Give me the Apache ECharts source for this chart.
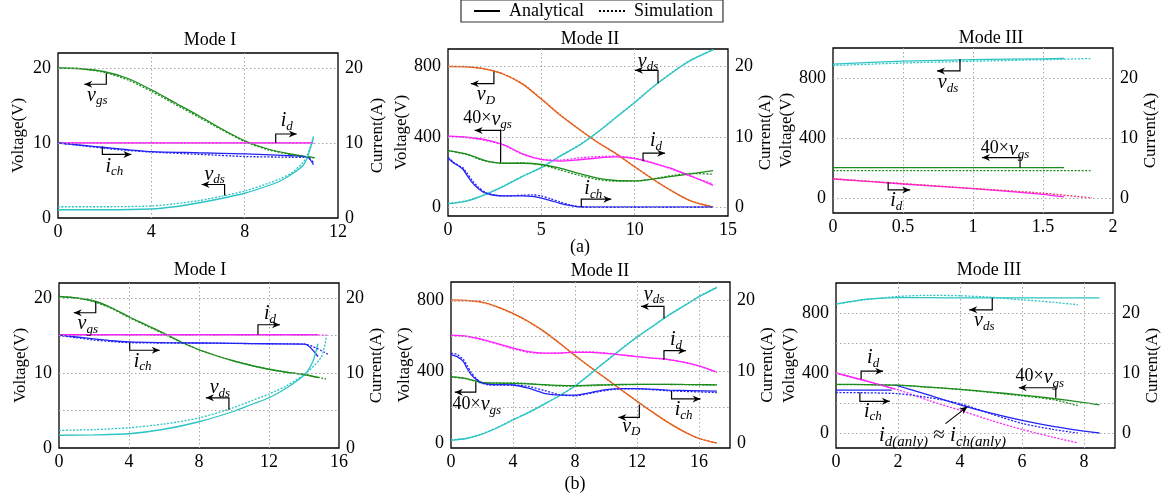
<!DOCTYPE html>
<html>
<head>
<meta charset="utf-8">
<script src="https://cdn.jsdelivr.net/npm/echarts@6/dist/echarts.min.js"></script>
<style>
  html, body { margin: 0; background: #fff; }
  #main { width: 1167px; height: 498px; }
</style>
</head>
<body>
<div id="main"></div>
<script>
// ---- (a) Mode I  (voltages in V, currents in A, same scale)
const a1T = [0, 1, 2, 3, 4, 5, 6, 7, 8, 9, 10, 10.5, 11];
const a1VgsAn = [20, 19.9, 19.5, 18.6, 17.1, 15.4, 13.7, 11.9, 10.3, 9.2, 8.5, 8.25, 8.05];
const a1VgsSim = [20, 19.9, 19.4, 18.4, 16.9, 15.2, 13.5, 11.8, 10.2, 9.1, 8.45, 8.2, 8.0];
const a1IdT = [0, 10.95];
const a1IdAn = [10, 10];
const a1IdSim = [10.02, 10.02];
const a1IchT = [0, 1, 2, 3, 4, 6, 8, 10, 10.7, 10.95];
const a1IchAn = [10, 9.7, 9.4, 9.1, 8.85, 8.7, 8.55, 8.3, 8.1, 7.1];
const a1IchSim = [10, 9.65, 9.3, 9.0, 8.8, 8.5, 8.2, 8.1, 8.05, 7.4];
const a1VdsT = [0, 2, 4, 5, 6, 7, 8, 9, 9.5, 10, 10.5, 10.7, 10.95];
const a1VdsAn = [1.1, 1.1, 1.2, 1.5, 2.0, 2.6, 3.3, 4.3, 4.9, 5.8, 7.0, 8.2, 10.7];
const a1VdsSim = [1.5, 1.5, 1.6, 1.9, 2.3, 2.9, 3.6, 4.6, 5.2, 6.0, 7.4, 8.5, 10.9];

// ---- (a) Mode II
const a2T = [0, 1, 2, 3, 4, 5, 6, 7, 8, 9, 10, 11, 12, 13, 14.2];
const a2VdAn = [800, 798, 785, 755, 700, 615, 525, 445, 370, 305, 230, 158, 92, 36, 0];
const a2VdSim = [802, 800, 787, 757, 702, 617, 527, 446, 371, 305, 230, 158, 92, 36, 2];
const a2VdsAn = [20, 35, 72, 120, 175, 225, 290, 350, 425, 510, 595, 685, 765, 835, 895];
const a2VdsSim = [22, 37, 74, 122, 177, 227, 292, 352, 427, 512, 597, 687, 767, 837, 897];
const a2VgsAn = [322, 302, 265, 250, 250, 243, 222, 192, 166, 152, 150, 160, 175, 190, 208];
const a2VgsSim = [322, 300, 262, 250, 252, 240, 212, 182, 158, 148, 148, 162, 180, 192, 188];
const a2IdAn = [10.1, 9.95, 9.6, 8.85, 7.6, 6.8, 6.55, 6.75, 7.0, 7.15, 6.9, 6.25, 5.5, 4.45, 3.1];
const a2IdSim = [10.1, 9.9, 9.5, 8.8, 7.5, 6.8, 6.7, 7.0, 7.2, 7.25, 7.0, 6.3, 5.4, 4.4, 3.3];
const a2IchT = [0, 0.3, 0.6, 0.8, 1.0, 1.3, 1.6, 2.0, 2.5, 3, 4, 4.5, 5, 5.5, 6, 6.5, 7, 8, 14.2];
const a2IchAn = [7.0, 6.3, 5.8, 5.4, 4.6, 3.5, 2.7, 2.0, 1.7, 1.6, 1.6, 1.55, 1.3, 0.95, 0.55, 0.25, 0.05, 0, 0];
const a2IchSim = [7.1, 6.4, 5.9, 5.6, 4.9, 3.8, 2.9, 2.1, 1.7, 1.6, 1.7, 1.75, 1.6, 1.2, 0.75, 0.35, 0.1, 0, 0];

// ---- (a) Mode III
const a3T = [0, 0.5, 1, 1.5, 1.65];
const a3TSim = [0, 0.5, 1, 1.5, 1.85];
const a3VdsAn = [893, 912, 922, 928, 930];
const a3VdsSim = [883, 900, 912, 922, 930];
const a3VgsAn = [203, 203, 203, 203, 203];
const a3VgsSim = [182, 182, 182, 182, 182];
const a3IdAn = [3.17, 2.33, 1.56, 0.6, 0.17];
const a3IdSim = [3.2, 2.4, 1.6, 0.8, 0.0];

// ---- (b) Mode I
const b1T = [0, 1, 2, 3, 4, 5, 6, 7, 8, 9, 10, 11, 12, 13, 14, 14.8];
const b1TSim = [0, 1, 2, 3, 4, 5, 6, 7, 8, 9, 10, 11, 12, 13, 14, 15.25];
const b1VgsAn = [20.2, 20.0, 19.6, 18.7, 17.5, 16.4, 15.3, 14.1, 13.1, 12.3, 11.6, 11.0, 10.5, 10.1, 9.8, 9.4];
const b1VgsSim = [20.2, 20.0, 19.5, 18.6, 17.4, 16.3, 15.2, 14.1, 13.1, 12.3, 11.6, 11.0, 10.5, 10.1, 9.8, 9.2];
const b1IdT = [0, 14.8];
const b1IdTSim = [0, 15.3];
const b1IdAn = [15.1, 15.1];
const b1IdSim = [15.05, 15.05];
const b1IchT = [0, 1, 2, 3, 4, 6, 8, 10, 12, 14.04, 14.8];
const b1IchTSim = [0, 1, 2, 3, 4, 6, 8, 10, 12, 14.04, 15.37];
const b1IchAn = [15.05, 14.8, 14.55, 14.3, 14.15, 14.05, 14.0, 13.95, 13.9, 13.85, 12.2];
const b1IchSim = [15.0, 14.7, 14.4, 14.2, 14.05, 14.0, 14.0, 13.95, 13.9, 13.85, 12.5];
const b1VdsT = [0, 2, 4, 6, 8, 10, 11, 12, 13, 14.04, 14.5, 14.8];
const b1VdsAn = [1.7, 1.75, 1.9, 2.5, 3.5, 4.9, 5.8, 6.7, 8.0, 9.8, 11.5, 13.9];
const b1VdsTSim = [0, 2, 4, 6, 8, 10, 11, 12, 13, 14.23, 15, 15.28];
const b1VdsSim = [2.35, 2.45, 2.7, 3.2, 4.0, 5.4, 6.3, 7.2, 8.3, 10.2, 12.2, 14.8];

// ---- (b) Mode II
const b2T = [0, 1, 2, 3, 4, 5, 6, 7, 8, 9, 10, 11, 12, 13, 14, 15, 16, 17.15];
const b2VdAn = [800, 798, 788, 762, 725, 680, 625, 560, 490, 425, 362, 298, 236, 175, 118, 68, 28, 2];
const b2VdSim = [795, 795, 786, 760, 723, 678, 623, 558, 490, 425, 362, 298, 236, 175, 118, 68, 28, 4];
const b2VdsAn = [18, 28, 52, 88, 131, 172, 218, 266, 320, 388, 458, 527, 592, 652, 712, 765, 818, 869];
const b2VdsSim = [20, 30, 54, 90, 133, 174, 220, 268, 322, 390, 460, 529, 594, 654, 714, 767, 820, 871];
const b2IdAn = [15.1, 14.95, 14.5, 13.9, 13.3, 12.8, 12.6, 12.6, 12.7, 12.7, 12.55, 12.35, 12.1, 11.9, 11.7, 11.35, 10.8, 9.95];
const b2IdSim = [15.05, 14.9, 14.45, 13.85, 13.2, 12.7, 12.55, 12.6, 12.75, 12.75, 12.6, 12.35, 12.1, 11.9, 11.7, 11.35, 10.8, 9.95];
const b2VgsAn = [373, 362, 340, 336, 335, 332, 328, 324, 323, 325, 327, 329, 330, 330, 330, 329, 328, 327];
const b2VgsSim = [370, 360, 338, 338, 338, 334, 326, 320, 320, 322, 325, 327, 329, 329, 329, 328, 327, 326];
const b2IchT = [0, 0.4, 0.8, 1.0, 1.3, 1.65, 2.0, 2.5, 3, 4, 5, 6, 7, 8, 9, 10, 11, 12, 14, 17.15];
const b2IchAn = [12.4, 12.1, 11.4, 10.6, 9.6, 8.9, 8.45, 8.25, 8.2, 8.15, 7.7, 7.0, 6.75, 6.75, 7.1, 7.5, 7.65, 7.65, 7.45, 7.3];
const b2IchSim = [12.6, 12.4, 11.7, 11.0, 9.9, 9.0, 8.4, 8.15, 8.15, 8.15, 7.95, 7.4, 6.8, 6.65, 7.0, 7.4, 7.6, 7.6, 7.35, 7.1];

// ---- (b) Mode III
const b3T = [0, 1, 2, 3, 4, 5, 6, 7, 8, 8.5];
const b3TSim = [0, 1, 2, 3, 4, 5, 6, 7, 7.8];
const b3VdsAn = [859, 892, 903, 902, 901, 901, 901, 901, 901, 901];
const b3VdsSim = [859, 890, 910, 918, 915, 905, 888, 872, 855];
const b3VgsAn = [324, 323, 319, 306, 291, 273, 253, 230, 203, 187];
const b3VgsSim = [322, 322, 318, 305, 290, 270, 248, 222, 183];
const b3IdT = [0, 1, 1.9];
const b3IdAn = [10.0, 8.65, 7.3];
const b3IchT = [0, 1.8];
const b3IchAn = [7.15, 7.15];
const b3MixT = [1.9, 3, 4, 5, 6, 7, 8, 8.5];
const b3MixAn = [8.0, 6.3, 4.7, 3.3, 2.1, 1.1, 0.3, 0.0];
const b3IdSim = [10.0, 8.6, 7.2, 5.4, 3.8, 2.1, 0.6, -0.7, -1.65];
const b3IchSim = [6.75, 6.7, 6.55, 5.9, 4.9, 3.2, 1.6, 0.6, 0.0];

const FONT = 'Liberation Serif';
const GREEN = '#1c8c1c', CYAN = '#2cc4c4', MAGENTA = '#ff22ff', BLUE = '#2323f5', ORANGE = '#e5601e';

// panel layout: pixel boxes, axis ranges (left axis in V; right axis = left / k)
const panels = [
  { l: 58, t: 53, w: 280, h: 165, xMax: 12, xStep: 4, xLast: 12, vMin: 0, vMax: 22, vStep: 2, k: 1, lab: 10, grid: [10, 20], gapL: 31, gapR: 31, title: 'Mode I', tx: 210, ty: 40 },
  { l: 448, t: 49, w: 280, h: 167, xMax: 15, xStep: 5, xLast: 15, vMin: -50, vMax: 900, vStep: 50, k: 40, lab: 400, grid: [0, 400, 800], gapL: 36, gapR: 25, title: 'Mode II', tx: 590, ty: 39 },
  { l: 833, t: 48, w: 280, h: 165, xMax: 2, xStep: 0.5, xLast: 2, vMin: -100, vMax: 1000, vStep: 100, k: 40, lab: 400, grid: [0, 400, 800], gapL: 34, gapR: 29, title: 'Mode III', tx: 991, ty: 38 },
  { l: 59, t: 283, w: 280, h: 165, xMax: 16, xStep: 4, xLast: 16, vMin: 0, vMax: 22, vStep: 1, k: 1, lab: 10, grid: [5, 10, 15, 20], gapL: 30, gapR: 29, title: 'Mode I', tx: 200, ty: 270 },
  { l: 451, t: 282, w: 279, h: 166, xMax: 18, xStep: 4, xLast: 16, vMin: -25, vMax: 900, vStep: 25, k: 40, lab: 400, grid: [200, 400, 600, 800], gapL: 35, gapR: 22, title: 'Mode II', tx: 600, ty: 271 },
  { l: 836, t: 283, w: 279, h: 165, xMax: 9, xStep: 2, xLast: 8, vMin: -100, vMax: 1000, vStep: 100, k: 40, lab: 400, grid: [0, 200, 400, 600, 800], gapL: 35, gapR: 28, title: 'Mode III', tx: 989, ty: 270 }
];

// annotation arrows: anchor in data units (left axis), elbow/arrow lengths and label offset in px
const notes = [
  { g: 0, at: [2.07, 19.3], v: 11, h: -22, lab: [-9, 22], t: ['', 'v', 'gs'] },
  { g: 0, at: [9.33, 10], v: -9, h: 21, lab: [11, -22], t: ['', 'i', 'd'] },
  { g: 0, at: [1.9, 9.55], v: 8, h: 29, lab: [12, 20], t: ['', 'i', 'ch'] },
  { g: 0, at: [7.14, 3.0], v: -11, h: -23, lab: [-10, -21], t: ['', 'v', 'ds'] },
  { g: 1, at: [11.25, 705], v: -13, h: -23, lab: [-10, -22], t: ['', 'v', 'ds'] },
  { g: 1, at: [2.46, 771], v: 12, h: -23, lab: [-8, 23], t: ['', 'v', 'D'] },
  { g: 1, at: [2.82, 255], v: -32, h: -26, lab: [-13, -43], t: ['40×', 'v', 'gs'] },
  { g: 1, at: [10.45, 262], v: -8, h: 22, lab: [13, -20], t: ['', 'i', 'd'] },
  { g: 1, at: [7.14, 0], v: -8, h: 30, lab: [12, -18], t: ['', 'i', 'ch'] },
  { g: 2, at: [0.907, 927], v: 12, h: -23, lab: [-12, 24], t: ['', 'v', 'ds'] },
  { g: 2, at: [1.336, 203], v: -10, h: -38, lab: [-15, -18], t: ['40×', 'v', 'gs'] },
  { g: 2, at: [0.394, 107], v: 8, h: 22, lab: [8, 19], t: ['', 'i', 'd'] },
  { g: 3, at: [2.1, 19.5], v: 11, h: -22, lab: [-8, 22], t: ['', 'v', 'gs'] },
  { g: 3, at: [11.37, 15.1], v: -10, h: 22, lab: [12, -21], t: ['', 'i', 'd'] },
  { g: 3, at: [4.04, 14.1], v: 8, h: 30, lab: [13, 19], t: ['', 'i', 'ch'] },
  { g: 3, at: [9.71, 5.09], v: -12, h: -23, lab: [-9, -22], t: ['', 'v', 'ds'] },
  { g: 4, at: [13.74, 697], v: -12, h: -23, lab: [-10, -24], t: ['', 'v', 'ds'] },
  { g: 4, at: [13.74, 467], v: -9, h: 22, lab: [12, -20], t: ['', 'i', 'd'] },
  { g: 4, at: [1.6, 342], v: 10, h: -21, lab: [1, 23], t: ['40×', 'v', 'gs'] },
  { g: 4, at: [14.23, 293], v: 8, h: 29, lab: [12, 19], t: ['', 'i', 'ch'] },
  { g: 4, at: [12.15, 218], v: 13, h: -21, lab: [-8, 22], t: ['', 'v', 'D'] },
  { g: 5, at: [5.04, 901], v: 12, h: -23, lab: [-8, 23], t: ['', 'v', 'ds'] },
  { g: 5, at: [0.81, 359], v: -8, h: 22, lab: [12, -21], t: ['', 'i', 'd'] },
  { g: 5, at: [0.77, 271], v: 9, h: 30, lab: [13, 19], t: ['', 'i', 'ch'] },
  { g: 5, at: [7.09, 235], v: -10, h: -37, lab: [-16, -20], t: ['40×', 'v', 'gs'] }
];

function ln(g, right, xs, ys, color, sim) {
  return {
    type: 'line',
    xAxisIndex: g,
    yAxisIndex: 2 * g + (right ? 1 : 0),
    data: xs.map((x, i) => [x, ys[i]]),
    symbol: 'none',
    showSymbol: false,
    smooth: 0.25,
    silent: true,
    z: sim ? 4 : 3,
    lineStyle: { color: color, width: 1.3, type: sim ? [2, 1.5] : 'solid' },
    itemStyle: { color: color }
  };
}

function isStep(v, step) {
  const r = v / step;
  return v >= 0 && Math.abs(r - Math.round(r)) < 1e-6;
}

const labelStyle = { fontFamily: FONT, fontSize: 18, color: '#000' };

const xAxes = panels.map((p, i) => ({
  type: 'value', gridIndex: i, min: 0, max: p.xMax, interval: p.xStep,
  axisLine: { show: false }, axisTick: { show: false },
  axisLabel: Object.assign({ margin: 5, formatter: v => (v <= p.xLast + 1e-9 ? String(+v.toFixed(2)) : '') }, labelStyle),
  splitLine: { show: true, showMinLine: false, showMaxLine: false, lineStyle: { type: [1.5, 2.5], color: '#a8a8a8', width: 1 } }
}));

const yAxes = [];
panels.forEach((p, i) => {
  yAxes.push({
    type: 'value', gridIndex: i, position: 'left', min: p.vMin, max: p.vMax, interval: p.vStep,
    name: 'Voltage(V)', nameLocation: 'middle', nameGap: p.gapL,
    nameTextStyle: { fontFamily: FONT, fontSize: 17, color: '#000' },
    axisLine: { show: false }, axisTick: { show: false }, splitLine: { show: false },
    axisLabel: Object.assign({ margin: 7, formatter: v => (isStep(v, p.lab) ? String(v) : '') }, labelStyle)
  });
  yAxes.push({
    type: 'value', gridIndex: i, position: 'right', min: p.vMin / p.k, max: p.vMax / p.k, interval: p.vStep / p.k,
    name: 'Current(A)', nameLocation: 'middle', nameGap: p.gapR,
    nameTextStyle: { fontFamily: FONT, fontSize: 17, color: '#000' },
    axisLine: { show: false }, axisTick: { show: false }, splitLine: { show: false },
    axisLabel: Object.assign({ margin: 7, formatter: v => (isStep(v, 10) ? String(+v.toFixed(2)) : '') }, labelStyle)
  });
});

// horizontal dotted grid lines
const gridSeries = panels.map((p, i) => ({
  type: 'line', xAxisIndex: i, yAxisIndex: 2 * i, data: [], silent: true, z: 1,
  markLine: {
    silent: true, symbol: ['none', 'none'], label: { show: false }, animation: false,
    lineStyle: { type: [1.5, 2.5], color: '#a8a8a8', width: 1 },
    emphasis: { disabled: true },
    data: p.grid.map(v => ({ yAxis: v }))
  }
}));

const series = gridSeries.concat([
  // (a) Mode I
  ln(0, false, a1T, a1VgsAn, GREEN), ln(0, false, a1T, a1VgsSim, GREEN, true),
  ln(0, true, a1IdT, a1IdAn, MAGENTA), ln(0, true, a1IdT, a1IdSim, MAGENTA, true),
  ln(0, true, a1IchT, a1IchAn, BLUE), ln(0, true, a1IchT, a1IchSim, BLUE, true),
  ln(0, false, a1VdsT, a1VdsAn, CYAN), ln(0, false, a1VdsT, a1VdsSim, CYAN, true),
  // (a) Mode II
  ln(1, false, a2T, a2VdAn, ORANGE), ln(1, false, a2T, a2VdSim, ORANGE, true),
  ln(1, false, a2T, a2VdsAn, CYAN), ln(1, false, a2T, a2VdsSim, CYAN, true),
  ln(1, false, a2T, a2VgsAn, GREEN), ln(1, false, a2T, a2VgsSim, GREEN, true),
  ln(1, true, a2T, a2IdAn, MAGENTA), ln(1, true, a2T, a2IdSim, MAGENTA, true),
  ln(1, true, a2IchT, a2IchAn, BLUE), ln(1, true, a2IchT, a2IchSim, BLUE, true),
  // (a) Mode III
  ln(2, false, a3T, a3VdsAn, CYAN), ln(2, false, a3TSim, a3VdsSim, CYAN, true),
  ln(2, false, a3T, a3VgsAn, GREEN), ln(2, false, a3TSim, a3VgsSim, GREEN, true),
  ln(2, true, a3T, a3IdAn, MAGENTA), ln(2, true, a3TSim, a3IdSim, '#f5306a', true),
  // (b) Mode I
  ln(3, false, b1T, b1VgsAn, GREEN), ln(3, false, b1TSim, b1VgsSim, GREEN, true),
  ln(3, true, b1IdT, b1IdAn, MAGENTA), ln(3, true, b1IdTSim, b1IdSim, MAGENTA, true),
  ln(3, true, b1IchT, b1IchAn, BLUE), ln(3, true, b1IchTSim, b1IchSim, BLUE, true),
  ln(3, false, b1VdsT, b1VdsAn, CYAN), ln(3, false, b1VdsTSim, b1VdsSim, CYAN, true),
  // (b) Mode II
  ln(4, false, b2T, b2VdAn, ORANGE), ln(4, false, b2T, b2VdSim, ORANGE, true),
  ln(4, false, b2T, b2VdsAn, CYAN), ln(4, false, b2T, b2VdsSim, CYAN, true),
  ln(4, false, b2T, b2VgsAn, GREEN), ln(4, false, b2T, b2VgsSim, GREEN, true),
  ln(4, true, b2T, b2IdAn, MAGENTA), ln(4, true, b2T, b2IdSim, MAGENTA, true),
  ln(4, true, b2IchT, b2IchAn, BLUE), ln(4, true, b2IchT, b2IchSim, BLUE, true),
  // (b) Mode III
  ln(5, false, b3T, b3VdsAn, CYAN), ln(5, false, b3TSim, b3VdsSim, CYAN, true),
  ln(5, false, b3T, b3VgsAn, GREEN), ln(5, false, b3TSim, b3VgsSim, GREEN, true),
  ln(5, true, b3IdT, b3IdAn, MAGENTA), ln(5, true, b3TSim, b3IdSim, MAGENTA, true),
  ln(5, true, b3IchT, b3IchAn, BLUE), ln(5, true, b3MixT, b3MixAn, BLUE),
  ln(5, true, b3TSim, b3IchSim, BLUE, true),
  // legend entries (transparent item colour hides the legend dot)
  { name: 'Analytical', type: 'line', data: [], symbol: 'none', xAxisIndex: 0, yAxisIndex: 0,
    lineStyle: { color: '#000', width: 1.6 }, itemStyle: { color: 'rgba(0,0,0,0)' } },
  { name: 'Simulation', type: 'line', data: [], symbol: 'none', xAxisIndex: 0, yAxisIndex: 0,
    lineStyle: { color: '#000', width: 1.6, type: [2, 2] }, itemStyle: { color: 'rgba(0,0,0,0)' } }
]);

const chart = echarts.init(document.getElementById('main'), null, { renderer: 'canvas' });
chart.setOption({
  animation: false,
  backgroundColor: '#fff',
  textStyle: { fontFamily: FONT },
  legend: {
    data: ['Analytical', 'Simulation'], left: 461, top: 0,
    itemWidth: 26, itemHeight: 10, itemGap: 14,
    padding: [2, 10, 2, 12], borderColor: '#333', borderWidth: 1.2,
    itemStyle: { opacity: 0 },
    textStyle: { fontFamily: FONT, fontSize: 18, color: '#000', padding: [0, 0, 0, 4] }
  },
  grid: panels.map(p => ({
    left: p.l, top: p.t, width: p.w, height: p.h, show: true, outerBoundsMode: 'none',
    borderColor: '#000', borderWidth: 1.3, backgroundColor: 'rgba(0,0,0,0)'
  })),
  xAxis: xAxes,
  yAxis: yAxes,
  series: series
});

// ---- titles, panel captions and arrow annotations
const RICH = {
  n: { fontFamily: FONT, fontSize: 18, lineHeight: 20, verticalAlign: 'top', fill: '#000' },
  m: { fontFamily: FONT, fontSize: 20, fontStyle: 'italic', lineHeight: 20, verticalAlign: 'top', fill: '#000' },
  s: { fontFamily: FONT, fontSize: 13, fontStyle: 'italic', lineHeight: 14, padding: [9, 0, 0, 0], verticalAlign: 'top', fill: '#000' }
};
const RICH_BIG = {
  n: { fontFamily: FONT, fontSize: 21, lineHeight: 22, verticalAlign: 'top', fill: '#000' },
  m: { fontFamily: FONT, fontSize: 21, fontStyle: 'italic', lineHeight: 22, verticalAlign: 'top', fill: '#000' },
  s: { fontFamily: FONT, fontSize: 15, fontStyle: 'italic', lineHeight: 15, padding: [10, 0, 0, 0], verticalAlign: 'top', fill: '#000' }
};

function mathText(t) {
  return (t[0] ? '{n|' + t[0] + '}' : '') + '{m|' + t[1] + '}{s|' + t[2] + '}';
}

function arrowHead(e, dx, dy) {
  const len = Math.hypot(dx, dy), ux = dx / len, uy = dy / len;
  const bx = e[0] - ux * 8, by = e[1] - uy * 8;
  return {
    type: 'polygon', z: 50,
    shape: { points: [e, [bx - uy * 3.5, by + ux * 3.5], [e[0] - ux * 5.5, e[1] - uy * 5.5], [bx + uy * 3.5, by - ux * 3.5]] },
    style: { fill: '#000' }
  };
}

const els = [];
panels.forEach(p => {
  els.push({ type: 'text', x: p.tx, y: p.ty, z: 50,
    style: { text: p.title, font: '18px "' + FONT + '"', fill: '#000', align: 'center', verticalAlign: 'middle' } });
});
els.push({ type: 'text', x: 580, y: 247, z: 50, style: { text: '(a)', font: '18px "' + FONT + '"', fill: '#000', align: 'center', verticalAlign: 'middle' } });
els.push({ type: 'text', x: 575, y: 484, z: 50, style: { text: '(b)', font: '18px "' + FONT + '"', fill: '#000', align: 'center', verticalAlign: 'middle' } });

notes.forEach(n => {
  const p = chart.convertToPixel({ xAxisIndex: n.g, yAxisIndex: 2 * n.g }, n.at);
  const c = [p[0], p[1] + n.v];
  const e = [p[0] + n.h, p[1] + n.v];
  els.push({ type: 'polyline', z: 50, shape: { points: [p, c, e] }, style: { stroke: '#000', lineWidth: 1.2, fill: null } });
  els.push(arrowHead(e, n.h, 0));
  els.push({ type: 'text', z: 50, x: p[0] + n.lab[0], y: p[1] + n.lab[1],
    style: { text: mathText(n.t), rich: RICH, align: 'center', verticalAlign: 'middle' } });
});

// diagonal arrow in (b) Mode III: i_d(anly) ≈ i_ch(anly)
const dTip = chart.convertToPixel({ xAxisIndex: 5, yAxisIndex: 10 }, [4.24, 176]);
const dStart = [dTip[0] - 22, dTip[1] + 17];
els.push({ type: 'polyline', z: 50, shape: { points: [dStart, dTip] }, style: { stroke: '#000', lineWidth: 1.2, fill: null } });
els.push(arrowHead(dTip, 22, -17));
els.push({ type: 'text', z: 50, x: dTip[0] - 25, y: dTip[1] + 29,
  style: { text: '{m|i}{s|d(anly)}{n| ≈ }{m|i}{s|ch(anly)}', rich: RICH_BIG, align: 'center', verticalAlign: 'middle' } });

chart.setOption({ graphic: els });
</script>
</body>
</html>
